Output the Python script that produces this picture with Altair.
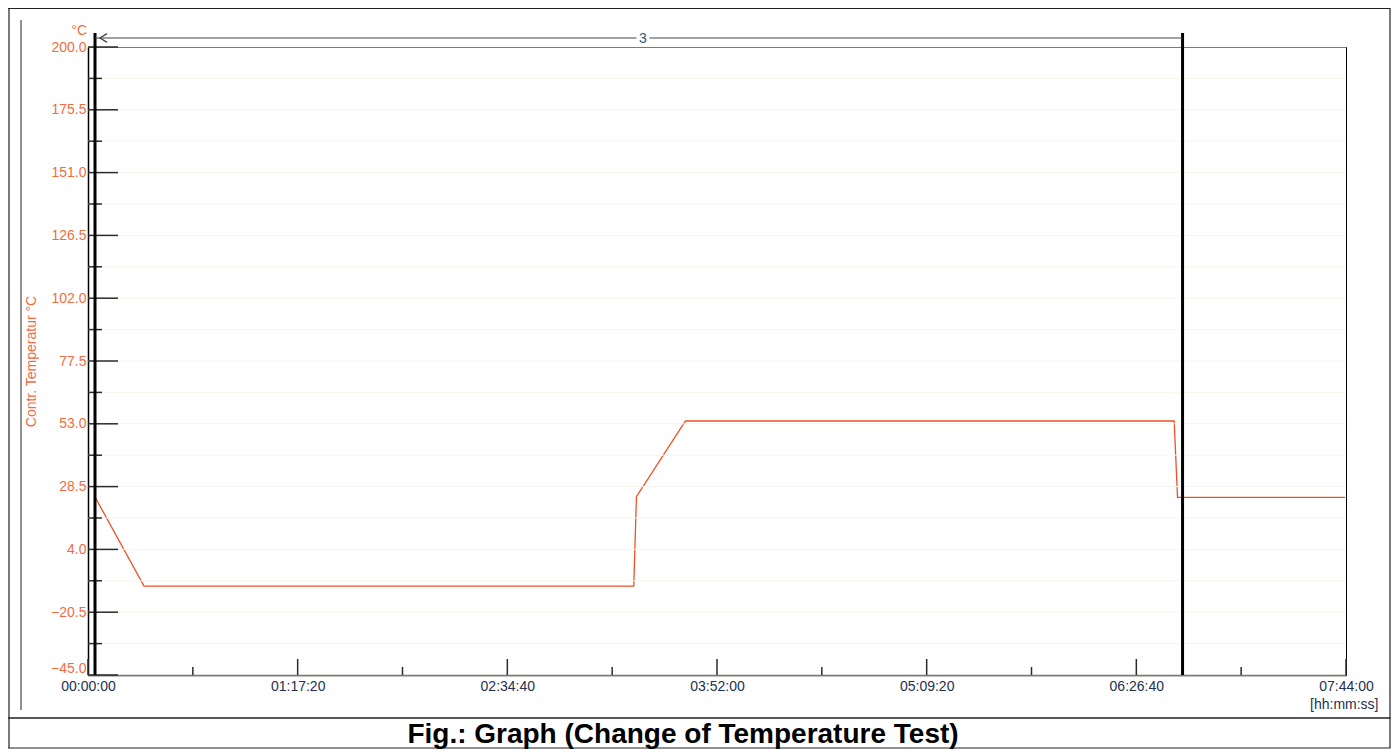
import altair as alt
import pandas as pd

# ---- data ----
time_s = [150, 1240, 12078, 12137, 13222, 24037, 24112, 27820]
temp_c = [24.6, -10.3, -10.3, 24.6, 54.1, 54.1, 24.3, 24.3]

cursor_s = [155, 24223]
cursor_gap = [12137, 12425]
cursor_label = "3"

y_tick_major = [200.0, 175.5, 151.0, 126.5, 102.0, 77.5, 53.0, 28.5, 4.0, -20.5, -45.0]
y_tick_minor = [187.75, 163.25, 138.75, 114.25, 89.75, 65.25, 40.75, 16.25, -8.25, -32.75]
x_tick_major = [0, 4640, 9280, 13920, 18560, 23200, 27840]
x_tick_minor = [2320, 6960, 11600, 16240, 20880, 25520]

W, H = 1258, 628
ORANGE = "#f36c3f"
LINE = "#ee5126"
NAVY = "#24304f"
FONT = "Liberation Sans"

xs = alt.Scale(domain=[0, 27840], nice=False, zero=False)
ys = alt.Scale(domain=[-45, 200], nice=False, zero=False)

df = pd.DataFrame({"t": time_s, "temp": temp_c})

x_axis = alt.Axis(
    values=x_tick_major,
    labelExpr="utcFormat(datum.value * 1000, '%H:%M:%S')",
    labelColor=NAVY, labelFont=FONT, labelFontSize=14, labelPadding=4,
    labelFlush=False, labelOverlap=False,
    ticks=False, grid=False, domainColor="black", domainWidth=1.5,
    title="[hh:mm:ss]", titleFont=FONT, titleFontSize=14, titleFontWeight="normal",
    titleColor=NAVY, titleX=1290, titleY=33, titleAlign="right",
    titleBaseline="alphabetic",
)
y_axis = alt.Axis(
    values=y_tick_major, format=".1f",
    labelColor=ORANGE, labelFont=FONT, labelFontSize=14, labelPadding=2,
    labelFlush=False, labelOverlap=False,
    labelBaseline=alt.condition("datum.value == -45", alt.value("bottom"), alt.value("middle")),
    ticks=False, grid=False, domainColor="black", domainWidth=1.5,
    title="Contr. Temperatur °C", titleFont=FONT, titleFontSize=14,
    titleFontWeight="normal", titleColor=ORANGE, titleX=-57, titleY=314,
    titleAngle=270, titleAlign="center", titleBaseline="middle",
)

main = alt.Chart(df).mark_line(color=LINE, strokeWidth=1.3).encode(
    x=alt.X("t:Q", scale=xs, axis=x_axis),
    y=alt.Y("temp:Q", scale=ys, axis=y_axis),
)

all_y = sorted(y_tick_major + y_tick_minor)
grid = alt.Chart(pd.DataFrame({"temp": all_y})).mark_rule(
    color="#f7f6ea", strokeWidth=1).encode(
    y=alt.Y("temp:Q", scale=ys), x=alt.value(0), x2=alt.value(W))

ymaj = alt.Chart(pd.DataFrame({"temp": y_tick_major})).mark_rule(
    color="#2b2b2b", strokeWidth=1.5).encode(
    y=alt.Y("temp:Q", scale=ys), x=alt.value(0), x2=alt.value(30))
ymin = alt.Chart(pd.DataFrame({"temp": y_tick_minor})).mark_rule(
    color="#2b2b2b", strokeWidth=1.5).encode(
    y=alt.Y("temp:Q", scale=ys), x=alt.value(0), x2=alt.value(14))
xmaj = alt.Chart(pd.DataFrame({"t": x_tick_major})).mark_rule(
    color="#2b2b2b", strokeWidth=1.5).encode(
    x=alt.X("t:Q", scale=xs), y=alt.value(H - 16), y2=alt.value(H))
xmin = alt.Chart(pd.DataFrame({"t": x_tick_minor})).mark_rule(
    color="#2b2b2b", strokeWidth=1.5).encode(
    x=alt.X("t:Q", scale=xs), y=alt.value(H - 8), y2=alt.value(H))

cursors = alt.Chart(pd.DataFrame({"t": cursor_s})).mark_rule(
    color="black", strokeWidth=3).encode(
    x=alt.X("t:Q", scale=xs), y=alt.value(-14), y2=alt.value(H))

seg = pd.DataFrame({"t": [cursor_s[0], cursor_gap[1]], "t2": [cursor_gap[0], cursor_s[1]]})
arrow_line = alt.Chart(seg).mark_rule(color="#444444", strokeWidth=1.2).encode(
    x=alt.X("t:Q", scale=xs), x2="t2:Q", y=alt.value(-9))
arrow_head = alt.Chart(pd.DataFrame({"t": [cursor_s[0]]})).mark_point(
    shape="M3,-1.1L1.25,0L3,1.1", size=64, filled=False, color="#444444",
    strokeWidth=1.3, opacity=1).encode(
    x=alt.X("t:Q", scale=xs), y=alt.value(-9))
label3 = alt.Chart(pd.DataFrame({"t": [sum(cursor_gap) / 2], "lab": [cursor_label]})).mark_text(
    color="#2e5a7a", fontSize=14, font=FONT, baseline="middle", align="center").encode(
    x=alt.X("t:Q", scale=xs), y=alt.value(-8), text="lab:N")

one = pd.DataFrame({"a": [0]})
deg = alt.Chart(one).mark_text(text="°C", color=ORANGE, fontSize=14, font=FONT,
                               align="right", baseline="alphabetic").encode(
    x=alt.value(-1), y=alt.value(-12))

def hline(x1, x2, y, w=1.2):
    return alt.Chart(one).mark_rule(color="#222222", strokeWidth=w).encode(
        x=alt.value(x1), x2=alt.value(x2), y=alt.value(y))

def vline(x, y1, y2, w=1.2):
    return alt.Chart(one).mark_rule(color="#222222", strokeWidth=w).encode(
        x=alt.value(x), y=alt.value(y1), y2=alt.value(y2))

frame = [
    hline(-80, 1302.5, -38.5),
    vline(-79, -38.5, 701),
    vline(1302, -38.5, 701),
    hline(-80, 1302.5, 701),
    hline(-80, 1302.5, 671, 1.5),
    vline(-67, -27, 663, 1),
]

caption = alt.Chart(one).mark_text(
    text="Fig.: Graph (Change of Temperature Test)", fontSize=28, fontWeight="bold",
    font=FONT, color="black", align="center", baseline="alphabetic").encode(
    x=alt.value(595), y=alt.value(696))

chart = alt.layer(
    main, grid, ymaj, ymin, xmaj, xmin, cursors, arrow_line, arrow_head, label3,
    deg, *frame, caption,
).properties(
    width=W, height=H,
    autosize=alt.AutoSizeParams(type="none"),
    padding={"left": 80, "top": 39, "right": 45, "bottom": 76},
    background="white",
).configure_view(stroke="black", strokeWidth=1)

chart.save("out.html", embed_options={"renderer": "svg", "actions": False})
